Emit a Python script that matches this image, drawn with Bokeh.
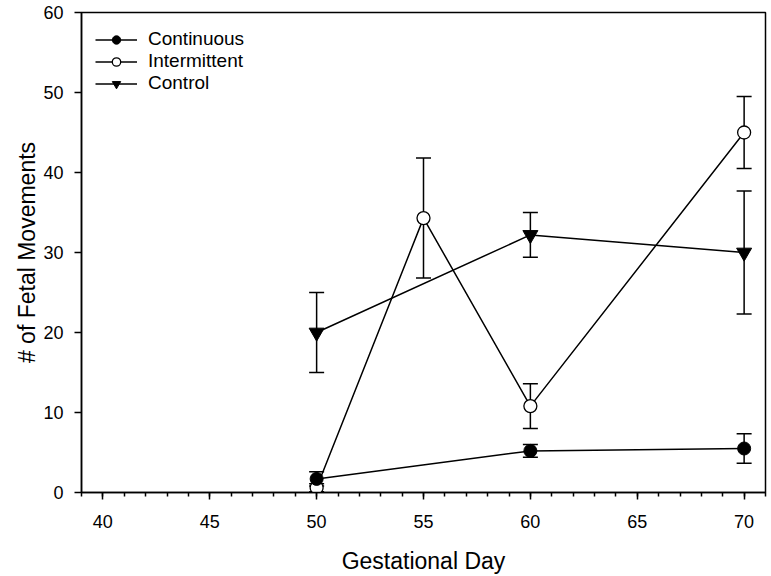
from bokeh.plotting import figure
from bokeh.models import (ColumnDataSource, Whisker, TeeHead, Legend, LegendItem,
                          FixedTicker, Range1d)
from bokeh.embed import file_html
from bokeh.resources import INLINE

# ---- data ----
x_ticks = [40, 45, 50, 55, 60, 65, 70]
y_ticks = [0, 10, 20, 30, 40, 50, 60]

cont_days = [50, 60, 70]
cont_mean = [1.7, 5.2, 5.5]
cont_err = [0.9, 0.8, 1.85]

int_days = [50, 55, 60, 70]
int_mean = [0.6, 34.3, 10.8, 45.0]
int_err = [0.5, 7.5, 2.8, 4.5]

ctrl_days = [50, 60, 70]
ctrl_mean = [20.0, 32.2, 30.0]
ctrl_err = [5.0, 2.8, 7.7]

FONT = "Liberation Sans"

p = figure(width=771, height=576, output_backend="svg", toolbar_location=None,
           x_range=Range1d(39, 71), y_range=Range1d(0, 60),
           min_border_left=81, min_border_right=6, min_border_top=12, min_border_bottom=84)

p.xgrid.visible = False
p.ygrid.visible = False
p.outline_line_color = "black"
p.outline_line_width = 1.5
p.outline_line_alpha = 1.0
p.background_fill_color = "white"
p.border_fill_color = "white"

def src(xs, ys, es):
    return ColumnDataSource(dict(x=xs, y=ys,
                                 lo=[a - b for a, b in zip(ys, es)],
                                 hi=[a + b for a, b in zip(ys, es)]))

s_cont = src(cont_days, cont_mean, cont_err)
s_int = src(int_days, int_mean, int_err)
s_ctrl = src(ctrl_days, ctrl_mean, ctrl_err)

LW = 1.5
l_cont = p.line("x", "y", source=s_cont, line_color="black", line_width=LW)
l_int = p.line("x", "y", source=s_int, line_color="black", line_width=LW)
l_ctrl = p.line("x", "y", source=s_ctrl, line_color="black", line_width=LW)

for s in (s_cont, s_int, s_ctrl):
    w = Whisker(base="x", upper="hi", lower="lo", source=s,
                line_color="black", line_width=LW,
                upper_head=TeeHead(size=15, line_color="black", line_width=LW),
                lower_head=TeeHead(size=15, line_color="black", line_width=LW))
    p.add_layout(w)

m_ctrl = p.scatter("x", "y", source=s_ctrl, marker="inverted_triangle", size=15,
                   fill_color="black", line_color="black", line_width=1)
m_int = p.scatter("x", "y", source=s_int, marker="circle", size=13,
                  fill_color="white", line_color="black", line_width=1.3)
m_cont = p.scatter("x", "y", source=s_cont, marker="circle", size=13,
                   fill_color="black", line_color="black", line_width=1)

legend = Legend(items=[
    LegendItem(label="Continuous", renderers=[l_cont, m_cont]),
    LegendItem(label="Intermittent", renderers=[l_int, m_int]),
    LegendItem(label="Control", renderers=[l_ctrl, m_ctrl]),
], location=(14, 398))
legend.margin = 0
legend.padding = 0
legend.spacing = 0
legend.label_height = 21
legend.glyph_height = 21
legend.glyph_width = 42
legend.label_standoff = 11
legend.border_line_color = None
legend.background_fill_alpha = 0
legend.label_text_font = FONT
legend.label_text_font_size = "19px"
legend.label_text_color = "black"
p.add_layout(legend)

# axes
p.xaxis.ticker = FixedTicker(ticks=x_ticks, minor_ticks=list(range(39, 72)))
p.yaxis.ticker = FixedTicker(ticks=y_ticks, minor_ticks=[])
for ax in (p.xaxis[0], p.yaxis[0]):
    ax.axis_line_width = 1.5
    ax.axis_line_color = "black"
    ax.major_tick_line_color = "black"
    ax.major_tick_line_width = 1.5
    ax.minor_tick_line_color = "black"
    ax.minor_tick_line_width = 1.5
    ax.major_tick_in = 0
    ax.major_tick_out = 7
    ax.minor_tick_in = 0
    ax.minor_tick_out = 4
    ax.major_label_text_font = FONT
    ax.major_label_text_font_size = "18px"
    ax.major_label_text_color = "black"
    ax.axis_label_text_font = FONT
    ax.axis_label_text_font_size = "23px"
    ax.axis_label_text_font_style = "normal"
    ax.axis_label_text_color = "black"

p.xaxis.axis_label = "Gestational Day"
p.yaxis.axis_label = "# of Fetal Movements"
p.xaxis.major_label_standoff = 15
p.xaxis.axis_label_standoff = 17
p.yaxis.major_label_standoff = 11
p.yaxis.axis_label_standoff = 0

open("out.html", "w").write(file_html(p, INLINE))
